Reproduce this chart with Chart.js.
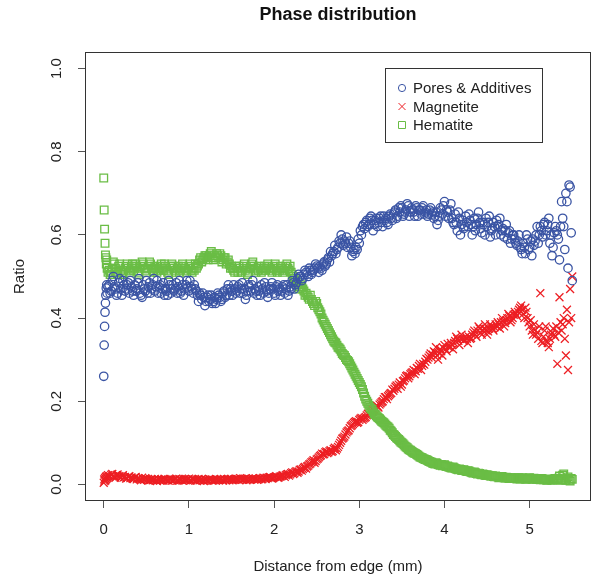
<!DOCTYPE html>
<html>
<head>
<meta charset="utf-8">
<title>Phase distribution</title>
<script src="https://cdn.jsdelivr.net/npm/chart.js@4.4.0/dist/chart.umd.min.js"></script>
<style>
  html, body { margin: 0; padding: 0; background: #fff; }
  canvas { display: block; }
</style>
</head>
<body>
<canvas id="chart" width="592" height="577"></canvas>
<script>
// distance from edge (mm)
const distance = [
  0,0.005,0.01,0.015,0.02,0.025,0.03,0.035,0.04,0.05,
  0.0625,0.075,0.0875,0.1,0.1125,0.125,0.1375,0.15,0.1625,0.175,
  0.1875,0.2,0.2125,0.225,0.2375,0.25,0.2625,0.275,0.2875,0.3,
  0.3125,0.325,0.3375,0.35,0.3625,0.375,0.3875,0.4,0.4125,0.425,
  0.4375,0.45,0.4625,0.475,0.4875,0.5,0.5125,0.525,0.5375,0.55,
  0.5625,0.575,0.5875,0.6,0.6125,0.625,0.6375,0.65,0.6625,0.675,
  0.6875,0.7,0.7125,0.725,0.7375,0.75,0.7625,0.775,0.7875,0.8,
  0.8125,0.825,0.8375,0.85,0.8625,0.875,0.8875,0.9,0.9125,0.925,
  0.9375,0.95,0.9625,0.975,0.9875,1,1.0125,1.025,1.0375,1.05,
  1.0625,1.075,1.0875,1.1,1.1125,1.125,1.1375,1.15,1.1625,1.175,
  1.1875,1.2,1.2125,1.225,1.2375,1.25,1.2625,1.275,1.2875,1.3,
  1.3125,1.325,1.3375,1.35,1.3625,1.375,1.3875,1.4,1.4125,1.425,
  1.4375,1.45,1.4625,1.475,1.4875,1.5,1.5125,1.525,1.5375,1.55,
  1.5625,1.575,1.5875,1.6,1.6125,1.625,1.6375,1.65,1.6625,1.675,
  1.6875,1.7,1.7125,1.725,1.7375,1.75,1.7625,1.775,1.7875,1.8,
  1.8125,1.825,1.8375,1.85,1.8625,1.875,1.8875,1.9,1.9125,1.925,
  1.9375,1.95,1.9625,1.975,1.9875,2,2.0125,2.025,2.0375,2.05,
  2.0625,2.075,2.0875,2.1,2.1125,2.125,2.1375,2.15,2.1625,2.175,
  2.1875,2.2,2.2125,2.225,2.2375,2.25,2.2625,2.275,2.2875,2.3,
  2.3125,2.325,2.3375,2.35,2.3625,2.375,2.3875,2.4,2.4125,2.425,
  2.4375,2.45,2.4625,2.475,2.4875,2.5,2.5125,2.525,2.5375,2.55,
  2.5625,2.575,2.5875,2.6,2.6125,2.625,2.6375,2.65,2.6625,2.675,
  2.6875,2.7,2.7125,2.725,2.7375,2.75,2.7625,2.775,2.7875,2.8,
  2.8125,2.825,2.8375,2.85,2.8625,2.875,2.8875,2.9,2.9125,2.925,
  2.9375,2.95,2.9625,2.975,2.9875,3,3.0125,3.025,3.0375,3.05,
  3.0625,3.075,3.0875,3.1,3.1125,3.125,3.1375,3.15,3.1625,3.175,
  3.1875,3.2,3.2125,3.225,3.2375,3.25,3.2625,3.275,3.2875,3.3,
  3.3125,3.325,3.3375,3.35,3.3625,3.375,3.3875,3.4,3.4125,3.425,
  3.4375,3.45,3.4625,3.475,3.4875,3.5,3.5125,3.525,3.5375,3.55,
  3.5625,3.575,3.5875,3.6,3.6125,3.625,3.6375,3.65,3.6625,3.675,
  3.6875,3.7,3.7125,3.725,3.7375,3.75,3.7625,3.775,3.7875,3.8,
  3.8125,3.825,3.8375,3.85,3.8625,3.875,3.8875,3.9,3.9125,3.925,
  3.9375,3.95,3.9625,3.975,3.9875,4,4.0125,4.025,4.0375,4.05,
  4.0625,4.075,4.0875,4.1,4.1125,4.125,4.1375,4.15,4.1625,4.175,
  4.1875,4.2,4.2125,4.225,4.2375,4.25,4.2625,4.275,4.2875,4.3,
  4.3125,4.325,4.3375,4.35,4.3625,4.375,4.3875,4.4,4.4125,4.425,
  4.4375,4.45,4.4625,4.475,4.4875,4.5,4.5125,4.525,4.5375,4.55,
  4.5625,4.575,4.5875,4.6,4.6125,4.625,4.6375,4.65,4.6625,4.675,
  4.6875,4.7,4.7125,4.725,4.7375,4.75,4.7625,4.775,4.7875,4.8,
  4.8125,4.825,4.8375,4.85,4.8625,4.875,4.8875,4.9,4.9125,4.925,
  4.9375,4.95,4.9625,4.975,4.9875,5,5.0125,5.025,5.0375,5.05,
  5.0625,5.075,5.0875,5.1,5.1125,5.125,5.1375,5.15,5.1625,5.175,
  5.1875,5.2,5.2125,5.225,5.2375,5.25,5.2625,5.275,5.2875,5.3,
  5.3125,5.325,5.3375,5.35,5.3625,5.375,5.3875,5.4,5.4125,5.425,
  5.4375,5.45,5.4625,5.475,5.4875,5.5
];

const pores = [
  0.26,0.335,0.38,0.414,0.436,0.455,0.472,0.48,0.46,0.475,
  0.48,0.46,0.465,0.49,0.5,0.475,0.47,0.455,0.46,0.485,
  0.495,0.47,0.455,0.49,0.48,0.465,0.47,0.48,0.485,0.46,
  0.49,0.475,0.465,0.455,0.48,0.465,0.47,0.485,0.495,0.46,
  0.455,0.45,0.48,0.47,0.465,0.49,0.46,0.475,0.485,0.46,
  0.47,0.48,0.495,0.465,0.475,0.49,0.46,0.475,0.48,0.46,
  0.47,0.485,0.455,0.47,0.465,0.455,0.49,0.48,0.46,0.47,
  0.48,0.465,0.47,0.485,0.46,0.475,0.49,0.46,0.465,0.48,
  0.455,0.47,0.48,0.49,0.475,0.465,0.49,0.475,0.47,0.46,
  0.48,0.47,0.465,0.455,0.44,0.46,0.455,0.445,0.46,0.45,
  0.43,0.44,0.45,0.455,0.44,0.445,0.455,0.435,0.44,0.45,
  0.435,0.445,0.46,0.455,0.45,0.44,0.445,0.46,0.465,0.45,
  0.455,0.47,0.48,0.455,0.47,0.465,0.455,0.48,0.47,0.46,
  0.465,0.475,0.48,0.46,0.47,0.485,0.46,0.47,0.445,0.455,
  0.465,0.48,0.475,0.465,0.48,0.49,0.46,0.47,0.465,0.455,
  0.475,0.465,0.455,0.48,0.47,0.46,0.485,0.475,0.465,0.45,
  0.46,0.47,0.475,0.485,0.47,0.46,0.455,0.475,0.48,0.465,
  0.47,0.455,0.465,0.475,0.48,0.46,0.47,0.48,0.455,0.465,
  0.475,0.47,0.49,0.485,0.47,0.48,0.485,0.495,0.505,0.5,
  0.5,0.49,0.495,0.505,0.515,0.51,0.505,0.5,0.52,0.515,
  0.505,0.51,0.515,0.52,0.53,0.525,0.52,0.51,0.525,0.52,
  0.515,0.53,0.535,0.525,0.53,0.54,0.545,0.535,0.56,0.55,
  0.555,0.56,0.575,0.555,0.565,0.57,0.585,0.58,0.6,0.59,
  0.575,0.585,0.58,0.595,0.57,0.58,0.585,0.57,0.55,0.56,
  0.565,0.555,0.57,0.565,0.59,0.58,0.61,0.6,0.62,0.625,
  0.615,0.63,0.635,0.62,0.625,0.64,0.645,0.635,0.61,0.625,
  0.635,0.64,0.62,0.63,0.64,0.645,0.63,0.62,0.645,0.635,
  0.64,0.63,0.625,0.645,0.65,0.64,0.635,0.65,0.655,0.66,
  0.64,0.645,0.665,0.655,0.67,0.665,0.645,0.65,0.655,0.66,
  0.675,0.67,0.645,0.655,0.665,0.66,0.655,0.645,0.67,0.665,
  0.645,0.66,0.66,0.65,0.665,0.67,0.65,0.655,0.66,0.645,
  0.65,0.66,0.665,0.65,0.655,0.64,0.645,0.655,0.625,0.635,
  0.645,0.665,0.66,0.65,0.67,0.68,0.645,0.66,0.655,0.64,
  0.66,0.675,0.64,0.63,0.625,0.65,0.63,0.61,0.655,0.64,
  0.6,0.625,0.635,0.615,0.62,0.645,0.63,0.62,0.65,0.635,
  0.625,0.6,0.62,0.64,0.61,0.625,0.64,0.655,0.63,0.615,
  0.605,0.63,0.625,0.6,0.64,0.62,0.63,0.645,0.595,0.61,
  0.615,0.63,0.62,0.6,0.635,0.62,0.625,0.64,0.6,0.61,
  0.615,0.595,0.61,0.625,0.59,0.605,0.61,0.58,0.59,0.6,
  0.6,0.59,0.58,0.575,0.585,0.6,0.57,0.565,0.555,0.58,
  0.57,0.555,0.6,0.59,0.565,0.57,0.585,0.55,0.59,0.575,
  0.585,0.6,0.62,0.58,0.6,0.62,0.61,0.595,0.625,0.63,
  0.6,0.61,0.625,0.64,0.58,0.6,0.55,0.57,0.605,0.62,
  0.61,0.6,0.59,0.54,0.62,0.68,0.64,0.62,0.565,0.7,
  0.68,0.52,0.72,0.715,0.605,0.49
];

const magnetite = [
  0.004,0.012,0.008,0.015,0.01,0.018,0.013,0.02,0.016,0.022,
  0.018,0.02,0.023,0.025,0.02,0.018,0.016,0.022,0.024,0.02,
  0.019,0.016,0.02,0.022,0.017,0.018,0.014,0.015,0.018,0.02,
  0.015,0.017,0.014,0.013,0.016,0.018,0.012,0.015,0.014,0.012,
  0.01,0.016,0.013,0.011,0.015,0.013,0.011,0.009,0.01,0.012,
  0.012,0.01,0.011,0.013,0.01,0.008,0.013,0.011,0.009,0.012,
  0.011,0.009,0.013,0.012,0.011,0.01,0.009,0.013,0.012,0.009,
  0.01,0.011,0.012,0.014,0.009,0.01,0.013,0.012,0.011,0.009,
  0.012,0.013,0.01,0.011,0.012,0.014,0.009,0.01,0.013,0.012,
  0.011,0.009,0.01,0.012,0.013,0.01,0.011,0.013,0.01,0.008,
  0.012,0.011,0.009,0.01,0.013,0.012,0.011,0.009,0.01,0.011,
  0.01,0.012,0.011,0.01,0.012,0.013,0.011,0.009,0.013,0.011,
  0.01,0.012,0.013,0.01,0.012,0.013,0.01,0.011,0.012,0.014,
  0.013,0.012,0.011,0.015,0.013,0.011,0.012,0.013,0.014,0.01,
  0.012,0.014,0.011,0.012,0.013,0.015,0.012,0.013,0.014,0.011,
  0.012,0.014,0.015,0.012,0.013,0.016,0.015,0.013,0.016,0.015,
  0.017,0.018,0.016,0.014,0.015,0.017,0.018,0.02,0.017,0.016,
  0.018,0.019,0.02,0.022,0.021,0.018,0.022,0.024,0.025,0.021,
  0.024,0.027,0.029,0.025,0.027,0.03,0.032,0.028,0.031,0.035,
  0.036,0.033,0.037,0.04,0.042,0.038,0.043,0.045,0.048,0.05,
  0.053,0.055,0.058,0.052,0.056,0.06,0.062,0.065,0.068,0.07,
  0.074,0.072,0.073,0.077,0.079,0.075,0.077,0.08,0.082,0.078,
  0.08,0.085,0.088,0.082,0.086,0.09,0.095,0.1,0.105,0.11,
  0.112,0.115,0.12,0.125,0.128,0.13,0.135,0.14,0.142,0.145,
  0.148,0.15,0.152,0.148,0.15,0.155,0.158,0.16,0.155,0.158,
  0.16,0.162,0.166,0.17,0.168,0.165,0.172,0.175,0.178,0.18,
  0.185,0.19,0.188,0.185,0.192,0.195,0.198,0.2,0.205,0.21,
  0.21,0.205,0.212,0.215,0.218,0.22,0.228,0.225,0.23,0.235,
  0.238,0.23,0.24,0.245,0.235,0.24,0.248,0.25,0.255,0.26,
  0.262,0.255,0.26,0.265,0.268,0.27,0.275,0.265,0.272,0.28,
  0.278,0.285,0.29,0.275,0.285,0.29,0.288,0.295,0.302,0.3,
  0.305,0.31,0.315,0.305,0.312,0.32,0.318,0.33,0.31,0.3,
  0.315,0.325,0.32,0.31,0.328,0.335,0.325,0.32,0.338,0.33,
  0.33,0.34,0.335,0.325,0.34,0.345,0.355,0.35,0.345,0.335,
  0.35,0.36,0.35,0.345,0.348,0.355,0.35,0.34,0.355,0.35,
  0.352,0.36,0.365,0.37,0.36,0.355,0.37,0.38,0.375,0.365,
  0.36,0.37,0.375,0.385,0.372,0.36,0.368,0.375,0.385,0.38,
  0.375,0.37,0.378,0.385,0.38,0.39,0.385,0.375,0.39,0.4,
  0.392,0.38,0.388,0.395,0.4,0.41,0.405,0.39,0.395,0.4,
  0.408,0.415,0.41,0.405,0.415,0.42,0.425,0.43,0.42,0.41,
  0.4,0.425,0.415,0.4,0.39,0.38,0.395,0.37,0.36,0.385,
  0.372,0.36,0.365,0.35,0.38,0.46,0.345,0.34,0.355,0.37,
  0.38,0.345,0.34,0.33,0.35,0.36,0.365,0.375,0.36,0.355,
  0.38,0.29,0.365,0.45,0.39,0.37,0.385,0.4,0.35,0.31,
  0.42,0.275,0.39,0.47,0.4,0.5
];

const hematite = [
  0.737,0.66,0.614,0.58,0.552,0.545,0.53,0.54,0.52,0.51,
  0.515,0.505,0.51,0.52,0.535,0.53,0.52,0.51,0.505,0.525,
  0.53,0.515,0.51,0.505,0.515,0.52,0.525,0.53,0.52,0.51,
  0.515,0.525,0.53,0.515,0.52,0.53,0.525,0.51,0.505,0.52,
  0.525,0.535,0.53,0.52,0.515,0.51,0.52,0.525,0.535,0.53,
  0.52,0.515,0.51,0.525,0.52,0.51,0.515,0.52,0.525,0.53,
  0.52,0.515,0.53,0.525,0.515,0.51,0.505,0.52,0.525,0.53,
  0.525,0.52,0.515,0.51,0.52,0.525,0.51,0.515,0.52,0.53,
  0.525,0.52,0.515,0.51,0.52,0.525,0.53,0.515,0.51,0.52,
  0.515,0.53,0.52,0.525,0.53,0.54,0.545,0.535,0.54,0.545,
  0.55,0.55,0.545,0.54,0.55,0.555,0.56,0.545,0.54,0.55,
  0.545,0.555,0.55,0.545,0.555,0.55,0.535,0.54,0.545,0.545,
  0.53,0.535,0.54,0.53,0.52,0.525,0.52,0.515,0.51,0.525,
  0.52,0.51,0.525,0.52,0.51,0.515,0.525,0.53,0.515,0.52,
  0.505,0.51,0.52,0.525,0.53,0.535,0.525,0.515,0.51,0.52,
  0.515,0.525,0.52,0.51,0.515,0.52,0.525,0.515,0.52,0.53,
  0.525,0.52,0.515,0.51,0.52,0.525,0.53,0.515,0.51,0.52,
  0.515,0.525,0.52,0.51,0.515,0.52,0.525,0.53,0.52,0.515,
  0.525,0.51,0.505,0.5,0.495,0.49,0.48,0.485,0.475,0.47,
  0.48,0.475,0.47,0.465,0.455,0.46,0.455,0.45,0.445,0.455,
  0.445,0.44,0.435,0.43,0.44,0.435,0.425,0.42,0.415,0.41,
  0.4,0.395,0.39,0.385,0.38,0.375,0.37,0.365,0.36,0.355,
  0.35,0.345,0.342,0.34,0.335,0.33,0.328,0.325,0.32,0.315,
  0.312,0.31,0.305,0.3,0.298,0.295,0.29,0.285,0.28,0.275,
  0.27,0.265,0.26,0.255,0.25,0.245,0.24,0.235,0.228,0.22,
  0.212,0.205,0.2,0.195,0.19,0.185,0.182,0.18,0.175,0.17,
  0.168,0.165,0.162,0.16,0.158,0.155,0.152,0.15,0.148,0.145,
  0.142,0.14,0.138,0.135,0.13,0.128,0.124,0.12,0.118,0.115,
  0.112,0.11,0.108,0.105,0.102,0.1,0.098,0.095,0.092,0.09,
  0.088,0.085,0.083,0.082,0.08,0.078,0.076,0.075,0.074,0.072,
  0.07,0.068,0.066,0.065,0.064,0.062,0.061,0.06,0.059,0.058,
  0.056,0.055,0.054,0.053,0.051,0.05,0.049,0.052,0.05,0.048,
  0.047,0.046,0.048,0.045,0.046,0.047,0.044,0.043,0.044,0.042,
  0.041,0.04,0.039,0.042,0.04,0.038,0.037,0.036,0.035,0.037,
  0.036,0.034,0.033,0.035,0.034,0.032,0.031,0.033,0.032,0.03,
  0.029,0.028,0.027,0.03,0.028,0.026,0.025,0.027,0.026,0.024,
  0.023,0.025,0.024,0.022,0.021,0.023,0.022,0.021,0.02,0.02,
  0.021,0.019,0.018,0.02,0.019,0.018,0.016,0.017,0.018,0.019,
  0.017,0.016,0.015,0.017,0.016,0.015,0.014,0.016,0.015,0.014,
  0.016,0.015,0.014,0.013,0.015,0.016,0.013,0.014,0.016,0.015,
  0.014,0.012,0.013,0.014,0.015,0.016,0.014,0.013,0.012,0.015,
  0.014,0.012,0.013,0.014,0.012,0.011,0.014,0.013,0.011,0.012,
  0.012,0.01,0.011,0.013,0.012,0.011,0.01,0.012,0.013,0.014,
  0.013,0.011,0.015,0.02,0.01,0.012,0.022,0.025,0.012,0.01,
  0.015,0.018,0.01,0.008,0.014,0.012
];

const xTicks = [0, 1, 2, 3, 4, 5];
const yTicks = [0, 0.2, 0.4, 0.6, 0.8, 1.0];
const yTickLabels = ['0.0', '0.2', '0.4', '0.6', '0.8', '1.0'];
const seriesNames = ['Pores & Additives', 'Magnetite', 'Hematite'];
const seriesColors = ['#3a54a4', '#ed1f24', '#6abd45'];
const seriesStyles = ['circle', 'crossRot', 'rect'];

const FONT = '"Liberation Sans", Arial, Helvetica, sans-serif';

const toPoints = ys => ys.map((v, i) => ({ x: distance[i], y: v }));

// legend symbols
function drawSymbol(ctx, style, x, y) {
  ctx.beginPath();
  if (style === 'circle') {
    ctx.arc(x, y, 3.6, 0, Math.PI * 2);
  } else if (style === 'crossRot') {
    ctx.moveTo(x - 3.5, y - 3.5); ctx.lineTo(x + 3.5, y + 3.5);
    ctx.moveTo(x + 3.5, y - 3.5); ctx.lineTo(x - 3.5, y + 3.5);
  } else {
    ctx.rect(x - 3.5, y - 3.5, 7, 7);
  }
  ctx.stroke();
}

// R-like frame, labels and legend
const rDecor = {
  id: 'rDecor',
  afterDraw(chart) {
    const { ctx, chartArea: a, scales } = chart;
    const xs = scales.x, ys = scales.y;
    ctx.save();

    ctx.strokeStyle = '#333';
    ctx.lineWidth = 1;
    ctx.strokeRect(a.left + 0.5, a.top + 0.5, a.right - a.left - 1, a.bottom - a.top - 1);

    ctx.fillStyle = '#222';
    ctx.font = '15px ' + FONT;
    ctx.textAlign = 'center';
    ctx.textBaseline = 'middle';
    xTicks.forEach(v => ctx.fillText(String(v), xs.getPixelForValue(v), 530));
    yTicks.forEach((v, i) => {
      ctx.save();
      ctx.translate(57, ys.getPixelForValue(v));
      ctx.rotate(-Math.PI / 2);
      ctx.fillText(yTickLabels[i], 0, 0);
      ctx.restore();
    });

    const cx = (a.left + a.right) / 2;
    ctx.fillText('Distance from edge (mm)', cx, 567);
    ctx.save();
    ctx.translate(20, (a.top + a.bottom) / 2);
    ctx.rotate(-Math.PI / 2);
    ctx.fillText('Ratio', 0, 0);
    ctx.restore();

    ctx.fillStyle = '#111';
    ctx.font = 'bold 18px ' + FONT;
    ctx.fillText('Phase distribution', cx, 15);

    // legend box
    ctx.strokeStyle = '#333';
    ctx.strokeRect(385.5, 68.5, 157, 74);
    ctx.font = '15px ' + FONT;
    ctx.textAlign = 'left';
    const rows = [88, 106.5, 125];
    seriesNames.forEach((name, i) => {
      ctx.strokeStyle = seriesColors[i];
      ctx.lineWidth = 1;
      drawSymbol(ctx, seriesStyles[i], 402, rows[i]);
      ctx.fillStyle = '#222';
      ctx.fillText(name, 413, rows[i] + 1);
    });
    ctx.restore();
  }
};

const radii = [4.2, 5.6, 5.4];
const orders = [1, 3, 2];   // magnetite at the bottom, pores on top

new Chart(document.getElementById('chart'), {
  type: 'scatter',
  data: {
    datasets: [pores, magnetite, hematite].map((vals, i) => ({
      label: seriesNames[i],
      data: toPoints(vals),
      pointStyle: seriesStyles[i],
      pointRadius: radii[i],
      pointBorderWidth: 1.3,
      borderColor: seriesColors[i],
      backgroundColor: 'rgba(0,0,0,0)',
      showLine: false,
      order: orders[i]
    }))
  },
  options: {
    responsive: false,
    animation: false,
    events: [],
    devicePixelRatio: 1,
    layout: { autoPadding: false, padding: { top: 52, right: 1, left: 0, bottom: 0 } },
    plugins: {
      legend: { display: false },
      title: { display: false },
      tooltip: { enabled: false }
    },
    scales: {
      x: {
        type: 'linear',
        min: -0.22,
        max: 5.72,
        afterBuildTicks: s => { s.ticks = xTicks.map(v => ({ value: v })); },
        afterFit: s => { s.height = 76; },
        ticks: { display: false },
        border: { display: false },
        grid: { drawOnChartArea: false, drawTicks: true, tickLength: 7, color: '#555', lineWidth: 1 }
      },
      y: {
        type: 'linear',
        min: -0.04,
        max: 1.04,
        afterBuildTicks: s => { s.ticks = yTicks.map(v => ({ value: v })); },
        afterFit: s => { s.width = 85; },
        ticks: { display: false },
        border: { display: false },
        grid: { drawOnChartArea: false, drawTicks: true, tickLength: 7, color: '#555', lineWidth: 1 }
      }
    }
  },
  plugins: [rDecor]
});
</script>
</body>
</html>
